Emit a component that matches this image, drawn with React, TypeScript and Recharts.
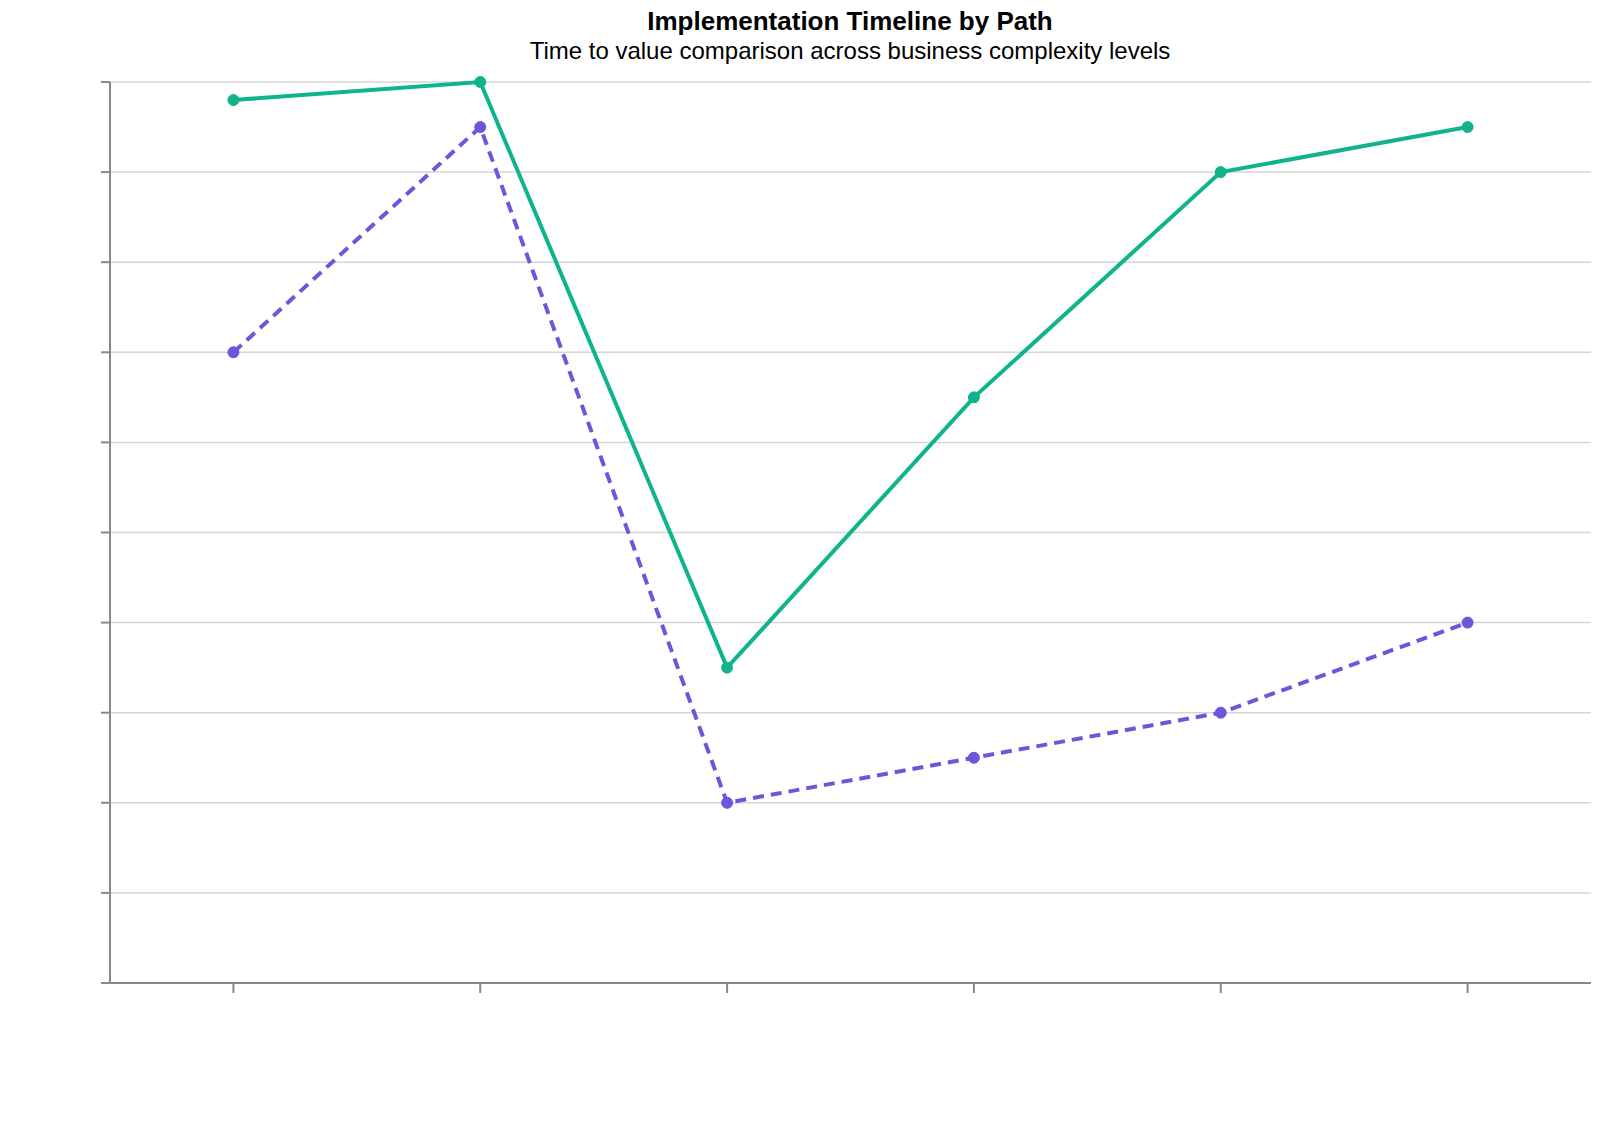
import { LineChart, Line, XAxis, YAxis, CartesianGrid } from "recharts";

// business complexity levels (labels are not printed on the chart)
const levels = ["Micro", "Small", "Growing", "Mid-size", "Large", "Enterprise"];
const fastPath = [9.8, 10, 3.5, 6.5, 9, 9.5];
const guidedPath = [7, 9.5, 2, 2.5, 3, 4];
const yTicks = [0, 1, 2, 3, 4, 5, 6, 7, 8, 9, 10];

const data = levels.map((level, i) => ({
  level,
  fast: fastPath[i],
  guided: guidedPath[i],
}));

const AXIS = "#888888";
const GREEN = "#0fb48c";
const PURPLE = "#6c57dc";

export default function App() {
  return (
    <div
      style={{
        position: "absolute",
        left: 0,
        top: 0,
        width: 1600,
        height: 1138,
        background: "#fff",
      }}
    >
      {/* title block, centred over the plot area */}
      <svg
        width={1600}
        height={80}
        style={{ position: "absolute", left: 0, top: 0 }}
        fontFamily='"Liberation Sans", Arial, sans-serif'
      >
        <text x={850} y={30} textAnchor="middle" fontSize={26} fontWeight="bold" fill="#000">
          Implementation Timeline by Path
        </text>
        <text x={850} y={59} textAnchor="middle" fontSize={24} fill="#000">
          Time to value comparison across business complexity levels
        </text>
      </svg>

      <div style={{ position: "absolute", left: 0, top: 0 }}>
        <LineChart
          width={1600}
          height={1138}
          data={data}
          margin={{ top: 82, right: 9, bottom: 125, left: 10 }}
        >
          <CartesianGrid vertical={false} stroke="#d6d6d6" strokeWidth={1.5} />
          <XAxis
            dataKey="level"
            scale="band"
            stroke={AXIS}
            strokeWidth={2}
            tickSize={10}
            height={30}
            tickFormatter={() => ""}
          />
          <YAxis
            domain={[0, 10]}
            ticks={yTicks}
            stroke={AXIS}
            strokeWidth={2}
            tickSize={9}
            width={100}
            tickFormatter={() => ""}
          />
          <Line
            dataKey="fast"
            stroke={GREEN}
            strokeWidth={4}
            dot={{ r: 5.5, fill: GREEN, stroke: GREEN, strokeWidth: 1 }}
            isAnimationActive={false}
          />
          <Line
            dataKey="guided"
            stroke={PURPLE}
            strokeWidth={4}
            strokeDasharray="11 7"
            dot={{ r: 5.5, fill: PURPLE, stroke: PURPLE, strokeWidth: 1, strokeDasharray: "" }}
            isAnimationActive={false}
          />
        </LineChart>
      </div>
    </div>
  );
}
